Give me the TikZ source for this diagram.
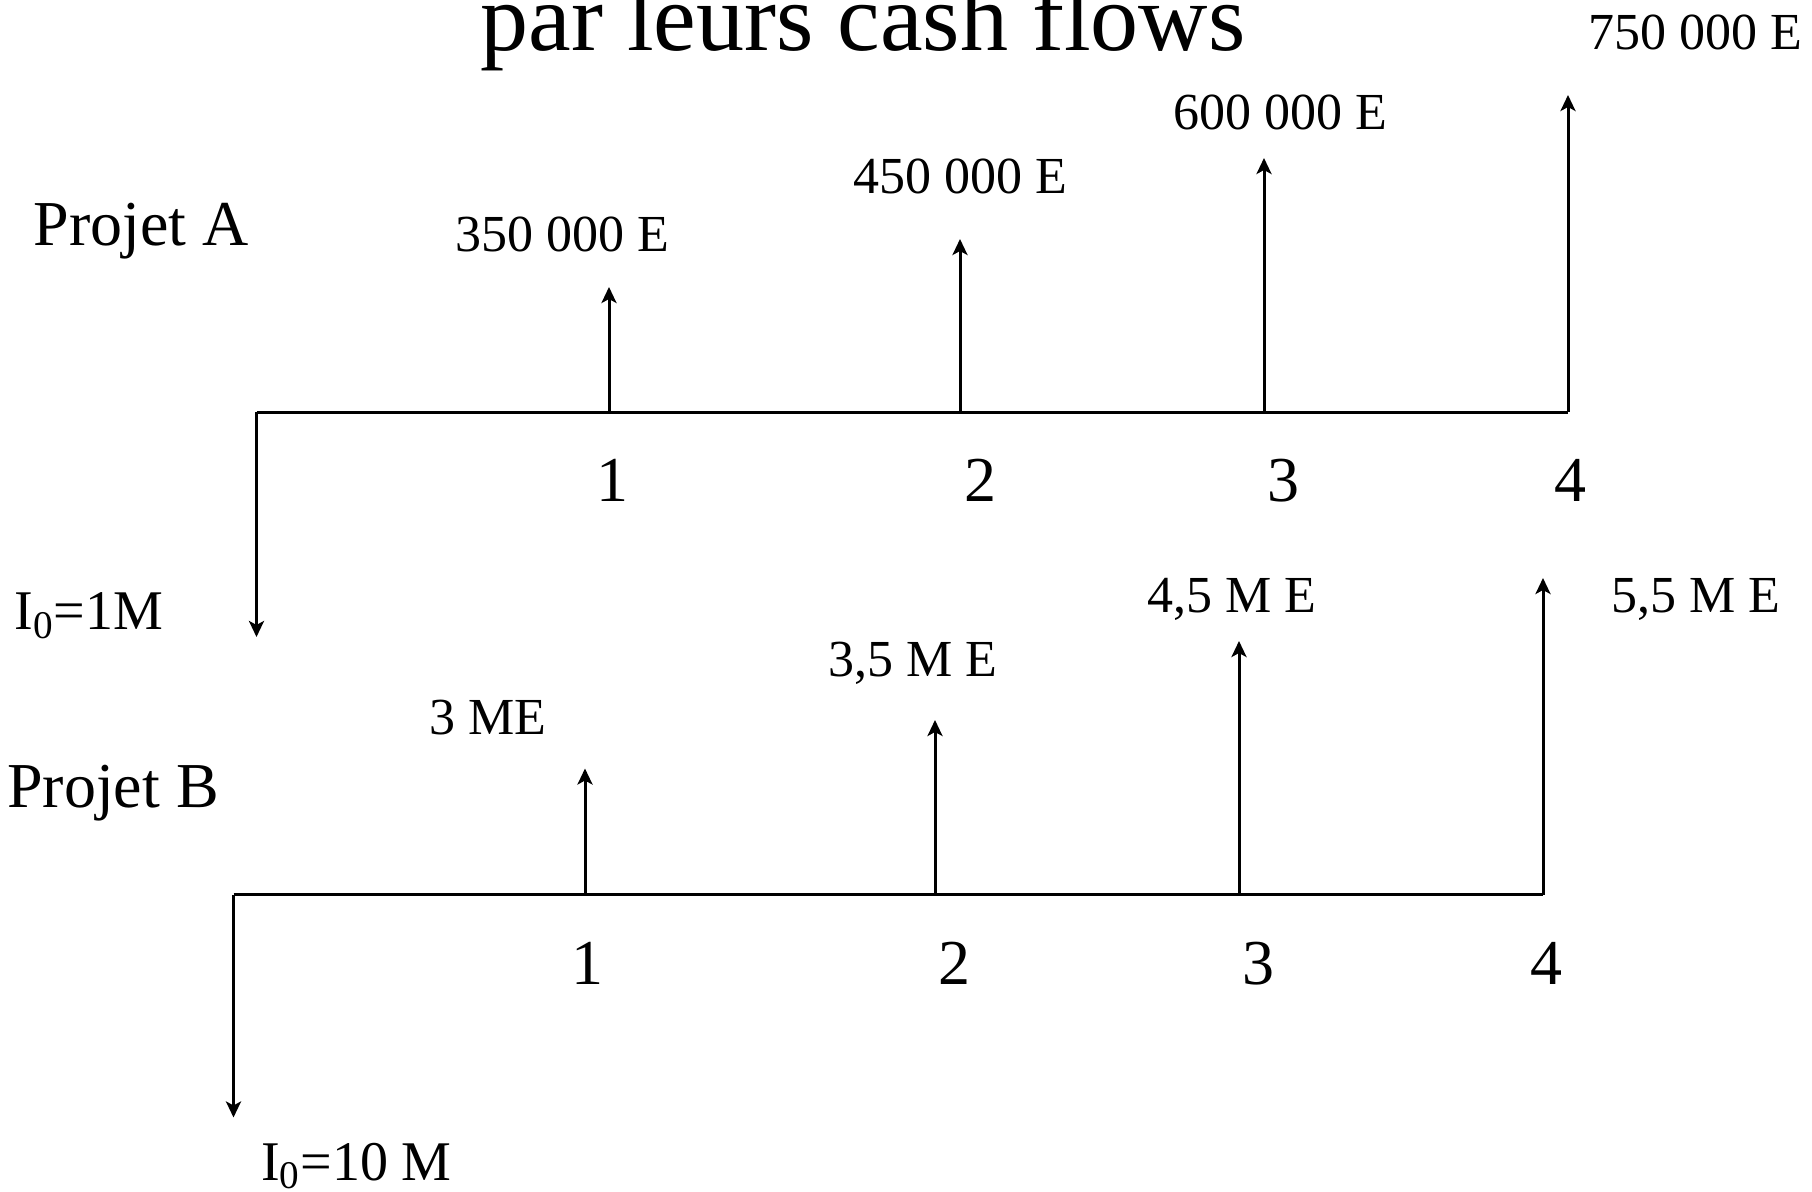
\documentclass[tikz,border=0pt]{standalone}
\usepackage{fontspec}
\setmainfont{Liberation Serif}
\usetikzlibrary{arrows.meta}
\begin{document}
\begin{tikzpicture}[x=0.5pt,y=-0.5pt,
  flow/.style={line width=1.5pt,-{Stealth[length=8pt,width=7.5pt,inset=2pt]}},
  axisline/.style={line width=1.5pt},
  amt/.style={anchor=base,font=\fontsize{26}{30}\selectfont,inner sep=0pt},
  tick/.style={anchor=base,font=\fontsize{32}{36}\selectfont,inner sep=0pt},
  proj/.style={anchor=base,font=\fontsize{32}{36}\selectfont,inner sep=0pt},
  inv/.style={anchor=base,font=\fontsize{28}{32}\selectfont,inner sep=0pt},
  ttl/.style={anchor=base,font=\fontsize{48}{52}\selectfont,inner sep=0pt}]
\useasboundingbox (0,0) rectangle (1812,1192);

% title
\node[ttl] (title) at (863,51) {par leurs cash flows};

% ---------- Projet A ----------
\coordinate (a0) at (256.5,412.5);
\coordinate (a1) at (609,412.5);
\coordinate (a2) at (960,412.5);
\coordinate (a3) at (1264,412.5);
\coordinate (a4) at (1568,412.5);
\coordinate (a0t) at (256.5,637);
\coordinate (a1t) at (609,287);
\coordinate (a2t) at (960,239);
\coordinate (a3t) at (1264,158);
\coordinate (a4t) at (1568,95);

\draw[axisline] (a0) -- (a4);
\draw[flow] (a0) -- (a0t);
\draw[flow] (a1) -- (a1t);
\draw[flow] (a2) -- (a2t);
\draw[flow] (a3) -- (a3t);
\draw[flow] (a4) -- (a4t);

\node[proj] (pa) at (141,246) {Projet A};
\node[amt] (la1) at (562,252) {350 000 E};
\node[amt] (la2) at (960,194) {450 000 E};
\node[amt] (la3) at (1280,130) {600 000 E};
\node[amt] (la4) at (1695,50) {750 000 E};
\node[tick] (ta1) at (612,502) {1};
\node[tick] (ta2) at (980,502) {2};
\node[tick] (ta3) at (1283,502) {3};
\node[tick] (ta4) at (1570,502) {4};
\node[inv] (ia) at (89,630) {I\textsubscript{0}=1M};

% ---------- Projet B ----------
\coordinate (b0) at (233.5,894.5);
\coordinate (b1) at (585,894.5);
\coordinate (b2) at (935,894.5);
\coordinate (b3) at (1239,894.5);
\coordinate (b4) at (1543,894.5);
\coordinate (b0t) at (233.5,1117.5);
\coordinate (b1t) at (585,768.5);
\coordinate (b2t) at (935,720);
\coordinate (b3t) at (1239,641);
\coordinate (b4t) at (1543,578);

\draw[axisline] (b0) -- (b4);
\draw[flow] (b0) -- (b0t);
\draw[flow] (b1) -- (b1t);
\draw[flow] (b2) -- (b2t);
\draw[flow] (b3) -- (b3t);
\draw[flow] (b4) -- (b4t);

\node[proj] (pb) at (113,807) {Projet B};
\node[amt] (lb1) at (488,734) {3 ME};
\node[amt] (lb2) at (913,677) {3,5 M E};
\node[amt] (lb3) at (1232,613) {4,5 M E};
\node[amt] (lb4) at (1696,613) {5,5 M E};
\node[tick] (tb1) at (587,984) {1};
\node[tick] (tb2) at (954.5,984) {2};
\node[tick] (tb3) at (1258.5,984) {3};
\node[tick] (tb4) at (1546,984) {4};
\node[inv] (ib) at (356.5,1180) {I\textsubscript{0}=10 M};
\end{tikzpicture}
\end{document}
